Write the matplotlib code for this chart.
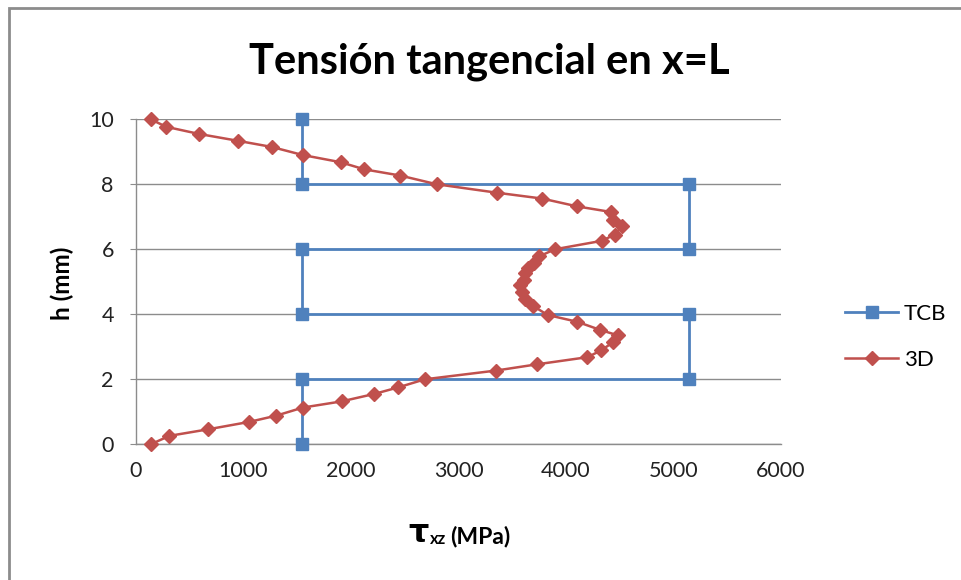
import matplotlib
matplotlib.use("Agg")
import matplotlib.pyplot as plt
from matplotlib.patches import Rectangle

plt.rcParams['font.family'] = ['Lato', 'DejaVu Sans']

# TCB series
tcb_x = [1540, 1540, 5140, 5140, 1540, 1540, 5140, 5140, 1540, 1540]
tcb_h = [10, 8, 8, 6, 6, 4, 4, 2, 2, 0]

# 3D series
d3_x = [137, 280, 585, 945, 1262, 1552, 1903, 2124, 2457, 2799,
        3360, 3780, 4104, 4415, 4440, 4521, 4452, 4332, 3895,
        3750, 3700, 3645, 3615, 3605, 3570, 3590, 3622, 3693, 3828,
        4104, 4318, 4484, 4437, 4328, 4198, 3728, 3352, 2687,
        2438, 2217, 1912, 1552, 1303, 1054, 669, 311, 137]
d3_h = [10.0, 9.77, 9.55, 9.34, 9.15, 8.90, 8.68, 8.46, 8.27, 8.0,
        7.74, 7.56, 7.32, 7.15, 6.90, 6.71, 6.45, 6.26, 6.0,
        5.78, 5.59, 5.43, 5.26, 5.07, 4.90, 4.70, 4.48, 4.26, 3.98,
        3.77, 3.52, 3.35, 3.14, 2.89, 2.68, 2.46, 2.27, 2.0,
        1.75, 1.55, 1.32, 1.13, 0.88, 0.69, 0.46, 0.26, 0.0]

x_ticks = [0, 1000, 2000, 3000, 4000, 5000, 6000]
y_ticks = [0, 2, 4, 6, 8, 10]

title = "Tensión tangencial en x=L"

W, H = 962, 580
fig = plt.figure(figsize=(W / 100, H / 100), dpi=100)
ax = fig.add_axes([136 / W, 1 - 444.3 / H, (781 - 136) / W, (444.3 - 119.3) / H])

grid_c = '#8c8c8c'
ax.set_xlim(0, 6000)
ax.set_ylim(0, 10)
ax.set_xticks(x_ticks)
ax.set_yticks(y_ticks)
ax.yaxis.grid(True, color=grid_c, linewidth=1.0)
ax.set_axisbelow(True)
for s in ['top', 'right']:
    ax.spines[s].set_visible(False)
for s in ['left', 'bottom']:
    ax.spines[s].set_color(grid_c)
    ax.spines[s].set_linewidth(1.0)
ax.tick_params(axis='y', length=4, color=grid_c, labelsize=15.5, pad=12)
ax.tick_params(axis='x', length=0, labelsize=15.5, pad=12)
for lab in ax.get_xticklabels() + ax.get_yticklabels():
    lab.set_color('#222222')

ax.plot(tcb_x, tcb_h, color='#4F81BD', linewidth=2.0, marker='s',
        markersize=8, label='TCB', clip_on=False, zorder=3)
ax.plot(d3_x, d3_h, color='#C0504D', linewidth=1.8, marker='D',
        markersize=7.5, label='3D', clip_on=False, zorder=4)

leg = fig.legend(loc='center left', bbox_to_anchor=(845 / W, 1 - 337 / H),
                 frameon=False, fontsize=16, handlelength=2.4,
                 handletextpad=0.25, labelspacing=1.15, borderpad=0,
                 borderaxespad=0)

fig.text(489 / W, 1 - 62 / H, title, ha='center', va='center',
         fontsize=30, fontweight='bold')

fig.text(62 / W, 1 - 283 / H, 'h (mm)', ha='center', va='center',
         rotation=90, fontsize=17.5, fontweight='bold')

# x label: tau with subscript xz and (MPa)
fig.text(429 / W, 1 - 542 / H, 'τ', ha='right', va='baseline',
         fontsize=23, fontweight='bold', family=['DejaVu Sans'])
fig.text(430 / W, 1 - 544 / H, 'xz', ha='left', va='baseline',
         fontsize=12, fontweight='bold')
fig.text(450 / W, 1 - 543 / H, '(MPa)', ha='left', va='baseline',
         fontsize=16.5, fontweight='bold')

fig.add_artist(Rectangle((8.5 / W, -0.2), 1.2, 1.2 - 7.5 / H,
                         transform=fig.transFigure, fill=False,
                         edgecolor='#8c8c8c', linewidth=2))

fig.savefig('out.png', dpi=100)
